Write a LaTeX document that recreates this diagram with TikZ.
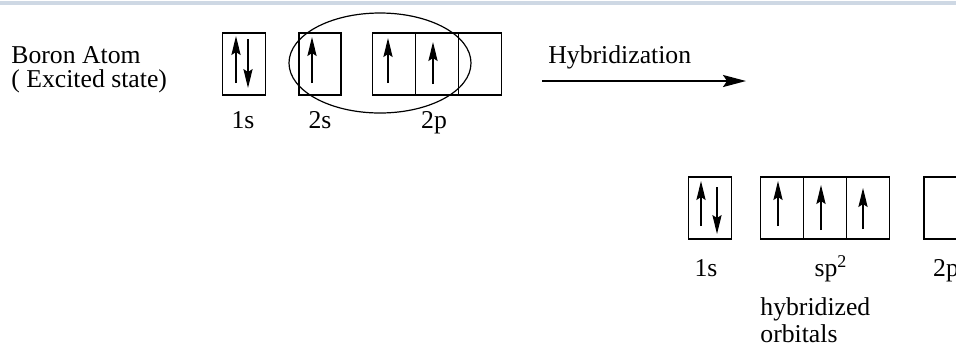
\documentclass[tikz,border=0pt]{standalone}
\usepackage{fontspec}
\setmainfont{Liberation Serif}
\usetikzlibrary{arrows.meta,positioning,shapes.geometric}
\definecolor{barblue}{RGB}{206,216,228}
\tikzset{
  orb/.style={draw, line width=0.7pt, minimum width=21.5pt, minimum height=31pt, inner sep=0pt, outer sep=0pt},
  spin/.style={-{Stealth[length=9.5pt,width=4.6pt,inset=1.5pt]}, line width=0.6pt},
  lbl/.style={anchor=base, inner sep=0pt}
}
\begin{document}
\begin{tikzpicture}[x=0.5pt, y=-0.5pt, font=\fontsize{12.85}{15.5}\selectfont]
      \useasboundingbox (0,0) rectangle (956,345);
      \clip (0,0) rectangle (956,345);
      \fill[barblue] (0,1) rectangle (956,5);
      % excited state
      \node[lbl, anchor=base west] (atom) at (11,63) {Boron Atom};
      \node[lbl, anchor=base west] (state) at (11,87) {( Excited state)};
      \node[orb] (s1) at (244,64) {};
      \node[orb, minimum width=21pt] (s2) at (320,64) {};
      \node[orb] (p1) at (394,64) {};
      \node[orb, right=0pt of p1] (p2) {};
      \node[orb, right=0pt of p2] (p3) {};
      \node[draw, ellipse, line width=0.6pt, minimum width=91pt, minimum height=50pt, inner sep=0pt] (mix) at (380,63) {};
      \node[lbl] (l1) at (243,128) {1s};
      \node[lbl] (l2) at (320,128) {2s};
      \node[lbl] (l3) at (434,128) {2p};
      \begin{scope}[spin]
        \draw (236,83) -- (236,36);
        \draw (248,39) -- (248,88);
        \draw (312,83) -- (312,37);
        \draw (388,83) -- (388,38);
        \draw (433,84) -- (433,42);
      \end{scope}
      % hybridization
      \node[lbl, anchor=base west] (hyb) at (548,63) {Hybridization};
      \coordinate (hstart) at (542,81);
      \coordinate (hend) at (746,81);
      \draw[line width=1pt, -{Stealth[length=11.5pt,width=6pt,inset=2pt]}] (hstart) -- (hend);
      % hybridized state
      \node[orb] (t1) at (710,208) {};
      \node[orb] (h1) at (782,208) {};
      \node[orb, right=0pt of h1] (h2) {};
      \node[orb, right=0pt of h2] (h3) {};
      \node[orb] (q1) at (945.5,208) {};
      \begin{scope}[spin]
        \draw (701,226) -- (701,181);
        \draw (717,187) -- (717,234);
        \draw (778,226) -- (778,181);
        \draw (821,230) -- (821,185);
        \draw (863,229) -- (863,188);
      \end{scope}
      \node[lbl] (m1) at (706,276) {1s};
      \node[lbl] (m2) at (831,276) {sp\textsuperscript{2}};
      \node[lbl] (m3) at (946,276) {2p};
      \node[lbl, anchor=base west] (note1) at (760,315) {hybridized};
      \node[lbl, anchor=base west] (note2) at (760,342) {orbitals};
    \end{tikzpicture}
\end{document}
